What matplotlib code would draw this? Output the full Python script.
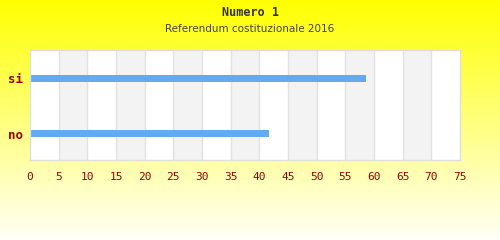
import matplotlib
matplotlib.use('Agg')
import matplotlib.pyplot as plt
import numpy as np

# data
categories = ['no', 'si']
values = [41.7, 58.6]
xticks = list(range(0, 80, 5))

W, H = 500, 240
fig = plt.figure(figsize=(W / 100, H / 100), dpi=100)

# background gradient: yellow at top fading to near white
bg = fig.add_axes([0, 0, 1, 1])
grad = np.linspace(0, 1, 256).reshape(-1, 1)
top = np.array([1.0, 1.0, 0.0])
bot = np.array([1.0, 1.0, 0.97])
img = top + (bot - top) * grad[:, :, None]
bg.imshow(img, aspect='auto', extent=[0, 1, 0, 1])
bg.set_axis_off()

# plot area, pixel coords: x 30..460, y 50..160
ax = fig.add_axes([30 / W, 1 - 160 / H, 430 / W, 110 / H])
ax.set_facecolor('white')
for i, x0 in enumerate(xticks[:-1]):
    if i % 2 == 1:
        ax.axvspan(x0, x0 + 5, color='#f3f3f3', zorder=0, lw=0)
for x0 in xticks[1:-1]:
    ax.axvline(x0, color='#e2e2e2', lw=1, zorder=1)

ypos = [0, 1]
ax.barh(ypos, values, height=0.127, color='#64aaf0', zorder=3)
ax.set_xlim(0, 75)
ax.set_ylim(-0.47, 1.51)

ax.set_xticks(xticks)
ax.set_xticklabels([str(t) for t in xticks], family='DejaVu Sans Mono',
                   fontsize=8, color='#990000')
ax.set_yticks(ypos)
ax.set_yticklabels(categories, family='DejaVu Sans Mono', fontsize=9,
                   fontweight='bold', color='#990000')
ax.tick_params(length=0, pad=9, axis='x')
ax.tick_params(length=0, pad=5, axis='y')
for s in ax.spines.values():
    s.set_color('#dddddd')
    s.set_linewidth(1)
    s.set_zorder(5)

fig.text(0.5, 1 - 13 / H, 'Numero 1', ha='center', va='center',
         family='DejaVu Sans Mono', fontweight='bold', fontsize=8.5, color='#333344')
fig.text(0.5, 1 - 29 / H, 'Referendum costituzionale 2016', ha='center', va='center',
         family='DejaVu Sans', fontsize=7.5, color='#444444')

fig.savefig('out.png', dpi=100)
